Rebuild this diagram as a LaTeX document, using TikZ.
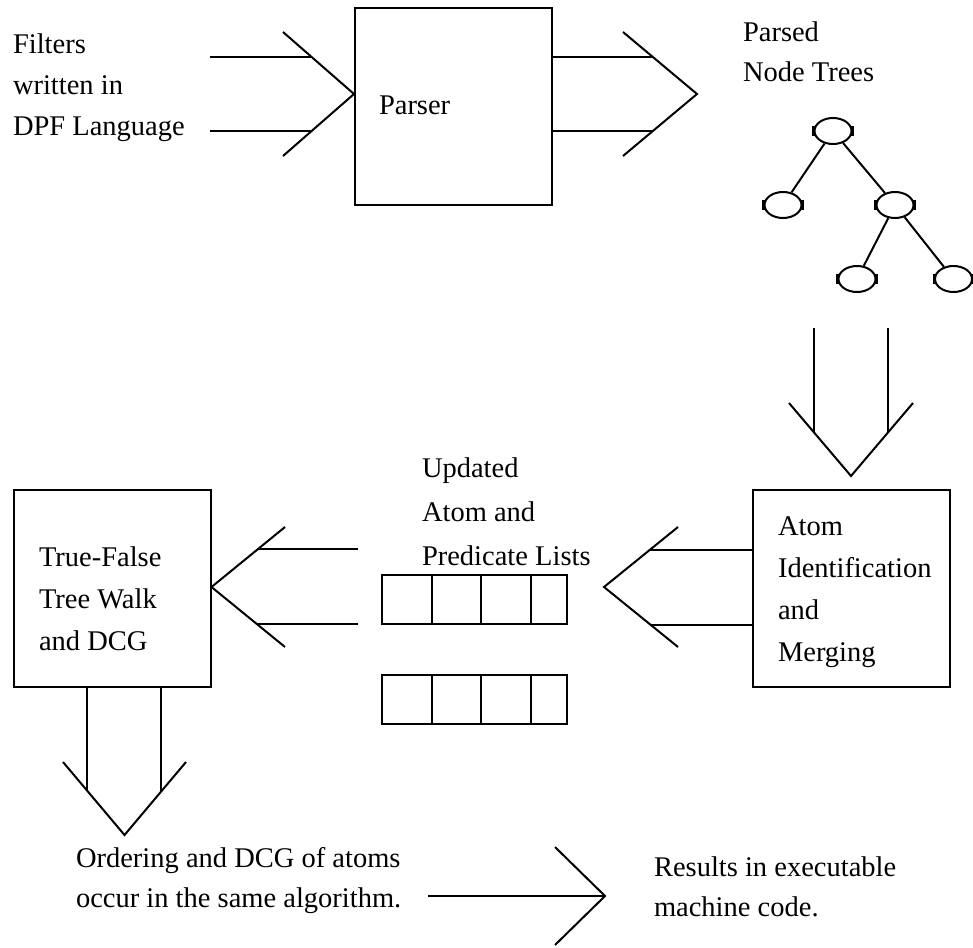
\documentclass[tikz,border=0pt]{standalone}
\usepackage{fontspec}
\setmainfont{Liberation Serif}
\usetikzlibrary{shapes.geometric}
\begin{document}
\begin{tikzpicture}[x=1pt,y=-1pt,line width=2pt,line join=miter,
  box/.style={draw,rectangle,minimum width=197pt,minimum height=197pt,inner sep=0pt},
  lbl/.style={anchor=west,align=left,inner sep=0pt,font=\fontsize{28.5pt}{40pt}\selectfont},
  treenode/.style={draw,ellipse,minimum width=37pt,minimum height=26pt,inner sep=0pt},
  cell/.style={draw,rectangle,inner sep=0pt,minimum height=49pt},
  tick/.style={line width=3pt}]
\useasboundingbox (0,0) rectangle (973,947);

% processing boxes
\node[box] (parser) at (453.5,106.5) {};
\node[box] (atom)   at (851.5,588) {};
\node[box] (tf)     at (112,588.5) {};

% labels
\node[lbl,font=\fontsize{28.5pt}{41pt}\selectfont] (tin) at (12,88) {Filters\\written in\\DPF Language};
\node[lbl] (tparser) at (378,105) {Parser};
\node[lbl] (ttrees)  at (742,52)  {Parsed\\Node Trees};
\node[lbl,font=\fontsize{28.5pt}{44pt}\selectfont] (tlists) at (421,512) {Updated\\Atom and\\Predicate Lists};
\node[lbl,font=\fontsize{28.5pt}{42pt}\selectfont] (tatom) at (777,592) {Atom\\Identification\\and\\Merging};
\node[lbl,font=\fontsize{28.5pt}{42pt}\selectfont] (ttf) at (38,599) {True-False\\Tree Walk\\and DCG};
\node[lbl] (torder)  at (75,881)  {Ordering and DCG of atoms\\occur in the same algorithm.};
\node[lbl] (tres)    at (653,887) {Results in executable\\machine code.};

% parsed node tree
\node[treenode] (r) at (833,131) {};
\node[treenode] (a) at (783,205) {};
\node[treenode] (b) at (895,205) {};
\node[treenode] (c) at (857,279) {};
\node[treenode] (d) at (953.5,279) {};
\foreach \n in {r,a,b,c,d}{
  \draw[tick] ([yshift=-5pt]\n.west) -- ([yshift=5pt]\n.west);
  \draw[tick] ([yshift=-5pt]\n.east) -- ([yshift=5pt]\n.east);
}
\draw (r) -- (a);
\draw (r) -- (b);
\draw (b) -- (c);
\draw (b) -- (d);

% atom and predicate lists
\node[cell,minimum width=50pt] (p1) at (407,599.5) {};
\node[cell,minimum width=49pt] (p2) at (456.5,599.5) {};
\node[cell,minimum width=50pt] (p3) at (506,599.5) {};
\node[cell,minimum width=36pt] (p4) at (549,599.5) {};
\node[cell,minimum width=50pt] (q1) at (407,699.5) {};
\node[cell,minimum width=49pt] (q2) at (456.5,699.5) {};
\node[cell,minimum width=50pt] (q3) at (506,699.5) {};
\node[cell,minimum width=36pt] (q4) at (549,699.5) {};

% filters into the parser
\coordinate (i1) at (210,57);
\coordinate (i2) at (210,131);
\coordinate (i1e) at (312,57);
\coordinate (i2e) at (312,131);
\coordinate (iu) at (283,32);
\coordinate (id) at (283,156);
\draw (i1) -- (i1e);
\draw (i2) -- (i2e);
\draw (iu) -- (parser.west |- 0,94) -- (id);

% parser out to the node trees
\coordinate (o1e) at (653,57);
\coordinate (o2e) at (653,131);
\coordinate (ou) at (623,32);
\coordinate (otip) at (697,94);
\coordinate (od) at (623,156);
\draw (parser.east |- o1e) -- (o1e);
\draw (parser.east |- o2e) -- (o2e);
\draw (ou) -- (otip) -- (od);

% node trees down into atom identification
\coordinate (v1) at (814,328);
\coordinate (v2) at (888,328);
\coordinate (v1e) at (814,432);
\coordinate (v2e) at (888,432);
\coordinate (vl) at (789,403);
\coordinate (vtip) at (851,476);
\coordinate (vr) at (913,403);
\draw (v1) -- (v1e);
\draw (v2) -- (v2e);
\draw (vl) -- (vtip) -- (vr);

% atom identification out to the lists
\coordinate (h1e) at (650,550);
\coordinate (h2e) at (651,625);
\coordinate (hu) at (678,527);
\coordinate (htip) at (604,587);
\coordinate (hd) at (678,647);
\draw (atom.west |- h1e) -- (h1e);
\draw (atom.west |- h2e) -- (h2e);
\draw (hu) -- (htip) -- (hd);

% lists into the true-false tree walk
\coordinate (k1) at (358,549);
\coordinate (k2) at (358,624);
\coordinate (k1e) at (258,549);
\coordinate (k2e) at (257,624);
\coordinate (ku) at (285,527);
\coordinate (kd) at (285,647);
\draw (k1) -- (k1e);
\draw (k2) -- (k2e);
\draw (ku) -- (tf.east |- 0,587) -- (kd);

% tree walk down to the ordering
\coordinate (w1e) at (87,790.5);
\coordinate (w2e) at (161,791.5);
\coordinate (wl) at (63,762);
\coordinate (wtip) at (124.5,835);
\coordinate (wr) at (186,762);
\draw (tf.south -| w1e) -- (w1e);
\draw (tf.south -| w2e) -- (w2e);
\draw (wl) -- (wtip) -- (wr);

% ordering results in machine code
\coordinate (m1) at (428,896);
\coordinate (mtip) at (605,896);
\coordinate (mu) at (555,847);
\coordinate (md) at (555,945);
\draw (m1) -- (mtip);
\draw (mu) -- (mtip) -- (md);
\end{tikzpicture}
\end{document}
